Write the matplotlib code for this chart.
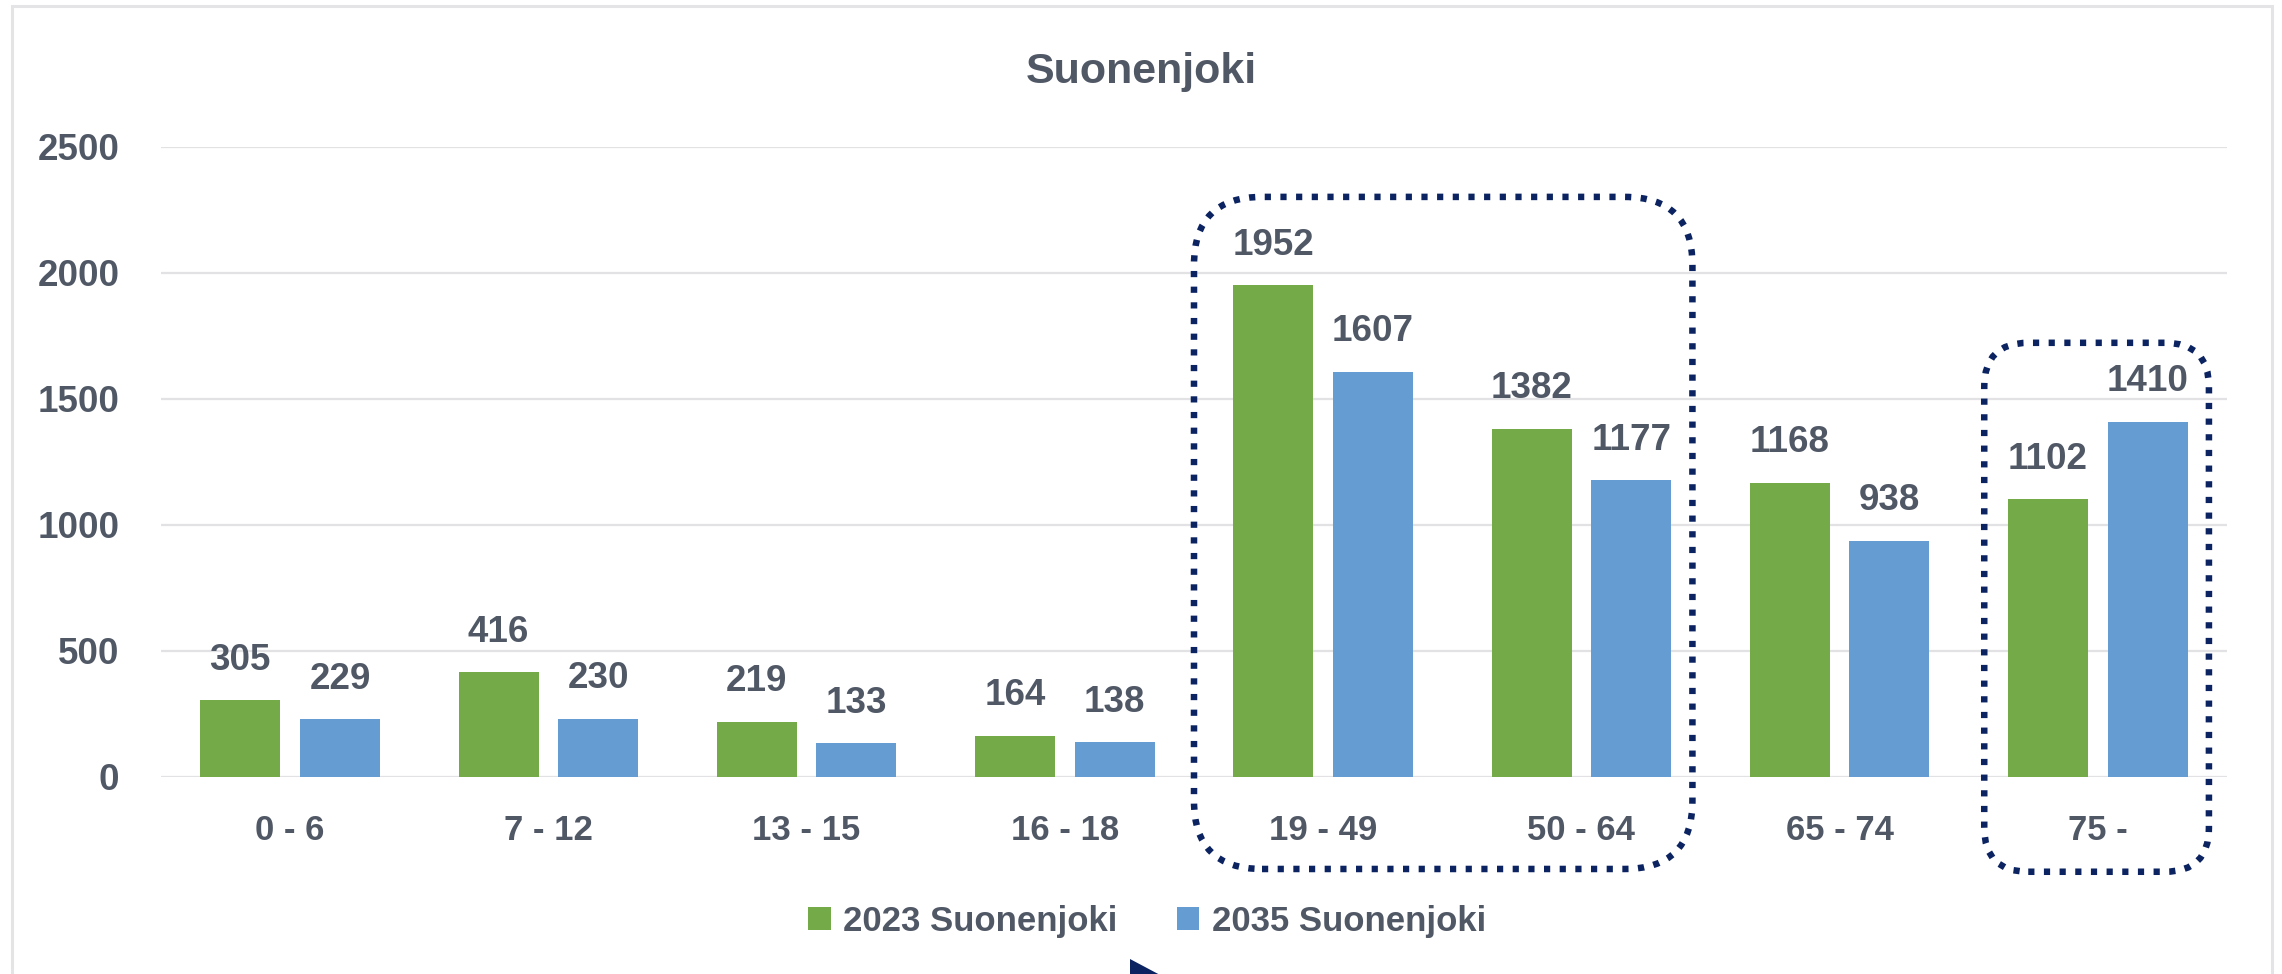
import numpy as np
import matplotlib as mpl
mpl.use('Agg')
import matplotlib.pyplot as plt
from matplotlib.patches import FancyBboxPatch, Polygon, Rectangle
from matplotlib.transforms import IdentityTransform

# data
categories = ["0 - 6", "7 - 12", "13 - 15", "16 - 18", "19 - 49", "50 - 64", "65 - 74", "75 -"]
values_2023 = [305, 416, 219, 164, 1952, 1382, 1168, 1102]
values_2035 = [229, 230, 133, 138, 1607, 1177, 938, 1410]
series_names = ["2023 Suonenjoki", "2035 Suonenjoki"]
y_ticks = [0, 500, 1000, 1500, 2000, 2500]
title = "Suonenjoki"

# style
GREEN = "#74aa48"
BLUE = "#659dd3"
TEXT = "#505866"
GRID = "#e2e2e5"
NAVY = "#0b2360"
FONT_SIZE = 25
W, H, DPI = 2282, 974, 100

mpl.rcParams['font.family'] = ['Liberation Sans', 'DejaVu Sans']
mpl.rcParams['font.weight'] = 'bold'

fig = plt.figure(figsize=(W / DPI, H / DPI), dpi=DPI)
fig.patch.set_facecolor("white")

# plot area in pixels: left 161, right 2227, y=0 at 777, y=2500 at 147
ax = fig.add_axes([161 / W, 1 - 777 / H, (2227 - 161) / W, (777 - 147) / H])
ax.set_facecolor("none")

x = np.arange(len(categories))
bar_w = 0.31
off = 0.193
bars1 = ax.bar(x - off, values_2023, bar_w, color=GREEN, label=series_names[0], zorder=3)
bars2 = ax.bar(x + off, values_2035, bar_w, color=BLUE, label=series_names[1], zorder=3)

# value labels
for bars, vals in ((bars1, values_2023), (bars2, values_2035)):
    for b, v in zip(bars, vals):
        ax.annotate(str(v), (b.get_x() + b.get_width() / 2, v),
                    xytext=(0, 22), textcoords="offset points",
                    ha="center", va="baseline", fontsize=26.5,
                    fontweight="bold", color=TEXT)

ax.set_xlim(-0.5, len(categories) - 0.5)
ax.set_ylim(0, 2500)
ax.set_yticks(y_ticks)
ax.set_xticks(x)
ax.set_xticklabels(categories)
ax.tick_params(axis="both", length=0, labelsize=FONT_SIZE, colors=TEXT)
ax.tick_params(axis="y", pad=30, labelsize=26.5)
ax.tick_params(axis="x", pad=27)
for s in ax.spines.values():
    s.set_visible(False)
ax.yaxis.grid(True, color=GRID, linewidth=1.6, zorder=0)
ax.set_axisbelow(True)

# title
fig.text(1141 / W, 1 - 83 / H, title, ha="center", va="baseline",
         fontsize=31, fontweight="bold", color=TEXT)

# legend
fig.legend(handles=[bars1, bars2], labels=series_names, loc="center",
           bbox_to_anchor=(1147 / W, 1 - 921 / H), ncol=2, frameon=False,
           fontsize=FONT_SIZE, handlelength=0.66, handleheight=0.66,
           handletextpad=0.35, columnspacing=1.7, labelcolor=TEXT)

# outer light frame
fig.patches.append(Rectangle((12, -10), 2272 - 12, H - 6 + 10, transform=IdentityTransform(),
                             fill=False, edgecolor="#e4e4e6", linewidth=2.2))


# dotted highlight boxes, given in data units then converted to pixels
def dotted_box(x0, x1, y0, y1, radius):
    (px0, py0) = ax.transData.transform((x0, y0))
    (px1, py1) = ax.transData.transform((x1, y1))
    box = FancyBboxPatch((px0 + radius, py0 + radius),
                         (px1 - px0) - 2 * radius, (py1 - py0) - 2 * radius,
                         boxstyle="round,pad=%f" % radius,
                         transform=IdentityTransform(), fill=False,
                         edgecolor=NAVY, linewidth=4.7,
                         linestyle=(0, (0.95, 1.45)), capstyle="butt")
    fig.patches.append(box)


dotted_box(3.5, 5.43, -365, 2302, 68)
dotted_box(6.56, 7.43, -376, 1723, 44)

# bit of an arrow at the bottom edge
fig.patches.append(Polygon([(1130, H - 959), (1162, H - 976), (1130, H - 976)],
                           closed=True, transform=IdentityTransform(),
                           facecolor=NAVY, edgecolor="none"))

fig.savefig("out.png", dpi=DPI, facecolor="white")
